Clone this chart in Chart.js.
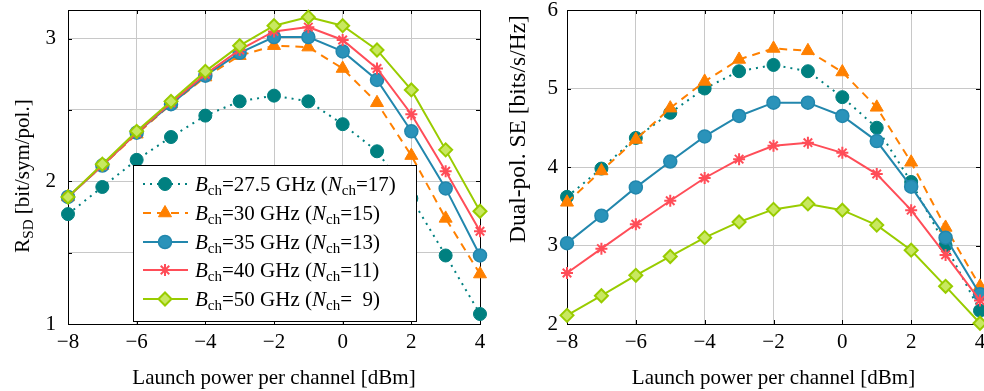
<!DOCTYPE html>
<html>
<head>
<meta charset="utf-8">
<script src="https://cdn.jsdelivr.net/npm/chart.js@4.4.1/dist/chart.umd.min.js"></script>
<style>
  html, body { margin: 0; padding: 0; background: #fff; overflow: hidden; width: 984px; height: 391px; }
  .panel { position: absolute; top: 0; }
  #left { left: 0; }
  #right { left: 492px; }
</style>
</head>
<body>
<div class="panel" id="left"><canvas id="cLeft" width="492" height="391"></canvas></div>
<div class="panel" id="right"><canvas id="cRight" width="500" height="391"></canvas></div>
<script>
// Eje x común: potencia de lanzamiento por canal [dBm]
const power = [-8, -7, -6, -5, -4, -3, -2, -1, 0, 1, 2, 3, 4];

// Leyenda: ancho de banda por canal y número de canales
const bandwidths = ['27.5', '30', '35', '40', '50'];
const channels = ['17', '15', '13', '11', '9'];

// Panel izquierdo: R_SD [bit/sym/pol.]
const rsd275 = [1.77, 1.96, 2.15, 2.31, 2.46, 2.56, 2.60, 2.56, 2.40, 2.21, 1.88, 1.48, 1.07];
const rsd30  = [1.89, 2.11, 2.33, 2.54, 2.73, 2.88, 2.95, 2.94, 2.79, 2.55, 2.18, 1.74, 1.35];
const rsd35  = [1.89, 2.11, 2.34, 2.54, 2.74, 2.90, 3.01, 3.01, 2.91, 2.71, 2.35, 1.95, 1.48];
const rsd40  = [1.89, 2.11, 2.34, 2.55, 2.75, 2.92, 3.05, 3.08, 2.99, 2.79, 2.47, 2.07, 1.65];
const rsd50  = [1.89, 2.12, 2.35, 2.56, 2.77, 2.95, 3.09, 3.15, 3.09, 2.92, 2.64, 2.22, 1.79];

// Panel derecho: Dual-pol. SE [bits/s/Hz]
const se275 = [3.62, 3.98, 4.37, 4.69, 5.00, 5.22, 5.30, 5.22, 4.89, 4.50, 3.81, 3.00, 2.17];
const se30  = [3.55, 3.95, 4.35, 4.75, 5.09, 5.37, 5.51, 5.48, 5.21, 4.76, 4.06, 3.23, 2.48];
const se35  = [3.03, 3.38, 3.74, 4.07, 4.39, 4.65, 4.82, 4.82, 4.65, 4.33, 3.75, 3.10, 2.38];
const se40  = [2.65, 2.96, 3.27, 3.57, 3.86, 4.10, 4.27, 4.31, 4.18, 3.91, 3.45, 2.88, 2.30];
const se50  = [2.11, 2.36, 2.62, 2.86, 3.10, 3.30, 3.46, 3.53, 3.45, 3.26, 2.94, 2.48, 2.01];

const FONT = '"Liberation Serif", "Times New Roman", "DejaVu Serif", serif';
const FS = 21;

// Estilo de cada serie (mismo orden que bandwidths)
const styles = [
    { line: '#008080', dash: [2, 5], point: 'circle', radius: 6.5, fill: '#008080', edge: '#008080', pbw: 1 },
    { line: '#ff8000', dash: [8, 6], point: 'triangle', radius: 7.5, fill: '#ff8000', edge: '#ff8000', pbw: 1 },
    { line: '#2287ad', dash: [], point: 'circle', radius: 6.5, fill: '#2a93ba', edge: '#2287ad', pbw: 1.5 },
    { line: '#ff4d58', dash: [], point: 'star', radius: 6, fill: '#ff4d58', edge: '#ff4d58', pbw: 2 },
    { line: '#99cc00', dash: [], point: 'rectRot', radius: 6.5, fill: '#c8e860', edge: '#99cc00', pbw: 2 }
];

function fmtTick(v) {
    return v < 0 ? '\u2212' + Math.abs(v) : String(v);
}

function makeDatasets(series) {
    return series.map((vals, i) => {
        const st = styles[i];
        return {
            label: bandwidths[i],
            data: power.map((p, k) => ({ x: p, y: vals[k] })),
            borderColor: st.line,
            borderWidth: 2,
            borderDash: st.dash,
            pointStyle: st.point,
            pointRadius: st.radius,
            pointBackgroundColor: st.fill,
            pointBorderColor: st.edge,
            pointBorderWidth: st.pbw,
            order: series.length - i,
            clip: false,
            tension: 0,
            fill: false
        };
    });
}

// Texto por trozos (cursiva / subíndice)
function fontOf(p, size) {
    return (p.it ? 'italic ' : '') + (p.sub ? Math.round(size * 0.72) : size) + 'px ' + FONT;
}
function partsWidth(ctx, parts, size) {
    let w = 0;
    parts.forEach(p => {
        ctx.font = fontOf(p, size);
        w += p.space ? p.space : ctx.measureText(p.t).width;
    });
    return w;
}
function drawParts(ctx, parts, x, y, size) {
    parts.forEach(p => {
        ctx.font = fontOf(p, size);
        if (p.space) { x += p.space; return; }
        ctx.fillText(p.t, x, p.sub ? y + 4 : y);
        x += ctx.measureText(p.t).width;
    });
}

// Marco completo con marcas hacia dentro (estilo pgfplots)
const framePlugin = {
    id: 'frame',
    beforeDatasetsDraw(chart) {
        const { ctx, chartArea: a, scales } = chart;
        ctx.save();
        ctx.strokeStyle = '#000';
        ctx.lineWidth = 1;
        ctx.beginPath();
        scales.x.ticks.forEach(t => {
            const px = Math.round(scales.x.getPixelForValue(t.value)) + 0.5;
            if (px <= a.left + 1 || px >= a.right - 1) return;
            ctx.moveTo(px, a.bottom); ctx.lineTo(px, a.bottom - 4);
            ctx.moveTo(px, a.top); ctx.lineTo(px, a.top + 4);
        });
        scales.y.ticks.forEach(t => {
            const py = Math.round(scales.y.getPixelForValue(t.value)) + 0.5;
            if (py <= a.top + 1 || py >= a.bottom - 1) return;
            ctx.moveTo(a.left, py); ctx.lineTo(a.left + 4, py);
            ctx.moveTo(a.right, py); ctx.lineTo(a.right - 4, py);
        });
        ctx.stroke();
        ctx.strokeRect(Math.round(a.left) + 0.5, Math.round(a.top) + 0.5, Math.round(a.width), Math.round(a.height));
        ctx.restore();
    }
};

// Título del eje y girado, con subíndice
const yTitlePlugin = {
    id: 'yTitle',
    afterDraw(chart, args, opts) {
        const ctx = chart.ctx;
        const size = opts.size || FS;
        ctx.save();
        ctx.fillStyle = '#000';
        ctx.textBaseline = 'alphabetic';
        ctx.translate(opts.x, opts.y);
        ctx.rotate(-Math.PI / 2);
        const w = partsWidth(ctx, opts.parts, size);
        drawParts(ctx, opts.parts, -w / 2, size * 0.33, size);
        ctx.restore();
    }
};

// Leyenda con recuadro dentro del panel izquierdo
const legendPlugin = {
    id: 'boxLegend',
    afterDatasetsDraw(chart, args, opts) {
        if (!opts.show) return;
        const ctx = chart.ctx;
        ctx.save();
        ctx.fillStyle = '#fff';
        ctx.fillRect(133, 165, 283, 156);
        ctx.strokeStyle = '#000';
        ctx.lineWidth = 1;
        ctx.strokeRect(133.5, 165.5, 283, 156);
        ctx.font = FS + 'px ' + FONT;
        const digitW = ctx.measureText('1').width;
        chart.data.datasets.forEach((ds, i) => {
            const y = Math.round(184 + i * 28.75);
            const st = styles[i];
            ctx.save();
            ctx.strokeStyle = st.line;
            ctx.lineWidth = 2;
            ctx.setLineDash(st.dash);
            ctx.beginPath();
            ctx.moveTo(143, y); ctx.lineTo(188, y);
            ctx.stroke();
            ctx.restore();
            ctx.save();
            ctx.fillStyle = st.fill;
            ctx.strokeStyle = st.edge;
            ctx.lineWidth = st.pbw;
            Chart.helpers.drawPoint(ctx, { pointStyle: st.point, radius: st.radius, rotation: 0, borderWidth: st.pbw }, 165, y);
            ctx.restore();
            const n = channels[i];
            const parts = [
                { t: 'B', it: true }, { t: 'ch', sub: true },
                { t: '=' + bandwidths[i] + ' GHz (' },
                { t: 'N', it: true }, { t: 'ch', sub: true },
                { t: '=' }
            ];
            if (n.length < 2) parts.push({ space: digitW });
            parts.push({ t: n + ')' });
            ctx.fillStyle = '#000';
            ctx.textBaseline = 'alphabetic';
            drawParts(ctx, parts, 195, y + 7, FS);
        });
        ctx.restore();
    }
};

function baseOptions(yMin, yMax, yStep, yWidth, yPad, titleOpts, showLegend) {
    return {
        responsive: false,
        animation: false,
        devicePixelRatio: 1,
        layout: { padding: { top: 10, right: 12, left: 0, bottom: 0 } },
        plugins: {
            legend: { display: false },
            tooltip: { enabled: false },
            yTitle: titleOpts,
            boxLegend: { show: showLegend }
        },
        scales: {
            x: {
                type: 'linear', min: -8, max: 4,
                ticks: { stepSize: 2, callback: v => fmtTick(v), color: '#000', font: { family: FONT, size: FS }, padding: 6, maxRotation: 0, autoSkip: false },
                grid: { color: '#c8c8c8', lineWidth: 1, drawTicks: false },
                border: { color: '#000', width: 1 },
                title: { display: true, text: 'Launch power per channel [dBm]', color: '#000', font: { family: FONT, size: FS }, padding: 0 },
                afterFit: s => { s.height = 67; s.paddingLeft = 0; s.paddingRight = 0; }
            },
            y: {
                type: 'linear', min: yMin, max: yMax,
                ticks: { stepSize: yStep, callback: intLabel, color: '#000', font: { family: FONT, size: FS }, padding: yPad, autoSkip: false },
                grid: { color: '#c8c8c8', lineWidth: 1, drawTicks: false },
                border: { color: '#000', width: 1 },
                afterFit: s => { s.width = yWidth; s.paddingTop = 0; s.paddingBottom = 0; }
            }
        }
    };
}

function intLabel(v) {
    return Math.abs(v - Math.round(v)) < 1e-6 ? fmtTick(Math.round(v)) : '';
}

new Chart(document.getElementById('cLeft'), {
    type: 'line',
    data: { datasets: makeDatasets([rsd275, rsd30, rsd35, rsd40, rsd50]) },
    options: baseOptions(1, 3.2, 0.5, 68, 12,
        { x: 22, y: 176, parts: [{ t: 'R' }, { t: 'SD', sub: true }, { t: ' [bit/sym/pol.]' }] }, true),
    plugins: [framePlugin, yTitlePlugin, legendPlugin]
});

new Chart(document.getElementById('cRight'), {
    type: 'line',
    data: { datasets: makeDatasets([se275, se30, se35, se40, se50]) },
    options: baseOptions(2, 6, 1, 75, 9,
        { x: 25, y: 129, size: 23.5, parts: [{ t: 'Dual-pol. SE [bits/s/Hz]' }] }, false),
    plugins: [framePlugin, yTitlePlugin, legendPlugin]
});
</script>
</body>
</html>
